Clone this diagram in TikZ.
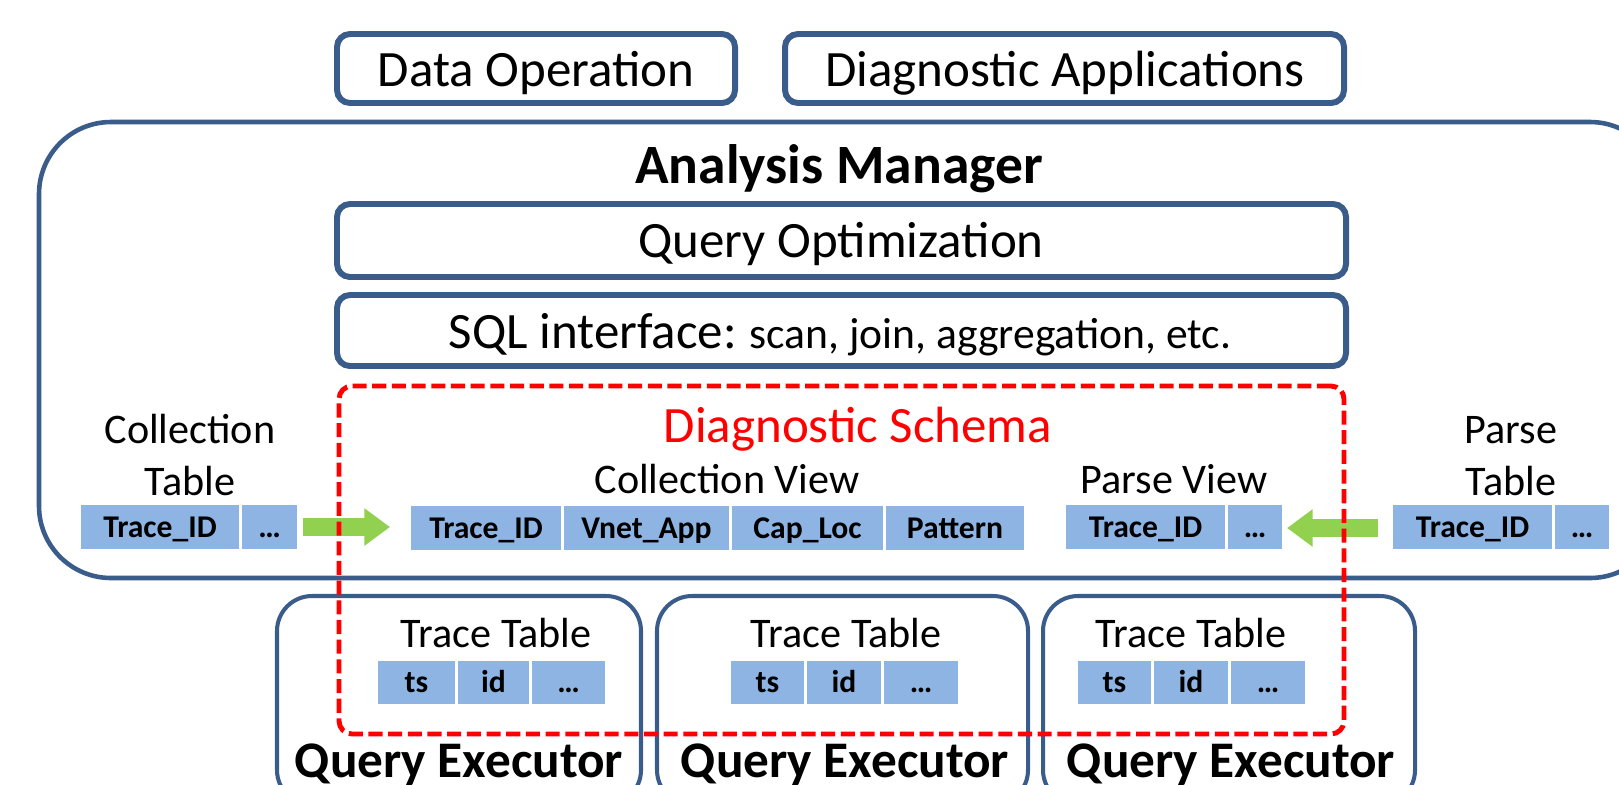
\documentclass[tikz,border=0pt]{standalone}
\usepackage{fontspec}
\setmainfont{Carlito}
\usetikzlibrary{arrows.meta,fit}
\definecolor{bord}{HTML}{3A5C8B}
\definecolor{cellblue}{HTML}{8DB4E2}
\definecolor{garrow}{HTML}{92D050}
\definecolor{dred}{HTML}{FF0000}
\newcommand{\fsz}[1]{\fontsize{#1}{#1}\selectfont}
\begin{document}
\begin{tikzpicture}[x=0.1mm,y=-0.1mm,
  box/.style={draw=bord, line width=1.7pt, rounded corners=1.3mm, inner sep=0pt},
  bigbox/.style={draw=bord, line width=1.3pt, rounded corners=7.2mm, inner sep=0pt},
  qebox/.style={draw=bord, line width=1.15pt, rounded corners=3.5mm, inner sep=0pt},
  cellbox/.style={fill=cellblue, inner sep=0pt},
  ctext/.style={inner sep=0pt, text height=5.8pt, text depth=0pt, font=\fsz{9pt}\bfseries},
  lbl/.style={inner sep=0pt, anchor=base},
  big/.style={lbl, font=\fsz{14.5pt}},
  mid/.style={lbl, font=\fsz{12pt}},
  garr/.style={draw=garrow, line width=5pt, -{Triangle[length=7.3pt,width=10.2pt]}},
  schema/.style={draw=dred, line width=1.4pt, dash pattern=on 4pt off 1.6pt, rounded corners=1.3mm, inner sep=0pt}
]
\clip (0,0) rectangle (1619,784);
% outer boxes
\node[bigbox, fit={(39,122) (1662,578)}] (am) {};
\node[box, fit={(337,34) (735,103)}] (dop) {};
\node[box, fit={(785,34) (1344,103)}] (dapp) {};
\node[box, fit={(337,204) (1346,277)}] (qo) {};
\node[box, fit={(337,295) (1346,366)}] (sql) {};
\node[qebox, fit={(277,596) (641,805)}] (qe1) {};
\node[qebox, fit={(657,596) (1028,805)}] (qe2) {};
\node[qebox, fit={(1043,596) (1415,805)}] (qe3) {};
% labels
\node[big] (dopt) at (536,86) {Data Operation};
\node[big] (dappt) at (1065,86) {Diagnostic Applications};
\node[lbl, font=\fsz{15.8pt}\bfseries] (amt) at (839,183) {Analysis Manager};
\node[big] (qot) at (841,257) {Query Optimization};
\node[big] (sqlt) at (840,348) {SQL interface:{\fsz{12.4pt} scan, join, aggregation, etc.}};
\node[big, text=dred] (dst) at (858,442) {Diagnostic Schema};
\node[mid] (cvt) at (727,493) {Collection View};
\node[mid] (pvt) at (1174,493) {Parse View};
\node[mid] (ctt1) at (190,443) {Collection};
\node[mid] (ctt2) at (190,495) {Table};
\node[mid] (ptt1) at (1511,443) {Parse};
\node[mid] (ptt2) at (1511,495) {Table};
\node[mid] (tt1) at (496,647) {Trace Table};
\node[mid] (tt2) at (846,647) {Trace Table};
\node[mid] (tt3) at (1191,647) {Trace Table};
\node[lbl, font=\fsz{14.6pt}\bfseries] (qe1t) at (459,777) {Query Executor};
\node[lbl, font=\fsz{14.6pt}\bfseries] (qe2t) at (845,777) {Query Executor};
\node[lbl, font=\fsz{14.6pt}\bfseries] (qe3t) at (1231,777) {Query Executor};
% collection table
\node[cellbox, fit={(81,505) (239,549)}] (ct1) {};
\node[cellbox, fit={(242,505) (297,549)}] (ct2) {};
\node[ctext] at (ct1.center) {Trace\_ID};
\node[ctext] at (ct2.center) {…};
% collection view
\node[cellbox, fit={(411,506) (561,550)}] (cv1) {};
\node[cellbox, fit={(564,506) (729,550)}] (cv2) {};
\node[cellbox, fit={(732,506) (883,550)}] (cv3) {};
\node[cellbox, fit={(886,506) (1024,550)}] (cv4) {};
\node[ctext] at (cv1.center) {Trace\_ID};
\node[ctext] at (cv2.center) {Vnet\_App};
\node[ctext] at (cv3.center) {Cap\_Loc};
\node[ctext] at (cv4.center) {Pattern};
% parse view
\node[cellbox, fit={(1066,505) (1225,549)}] (pv1) {};
\node[cellbox, fit={(1228,505) (1282,549)}] (pv2) {};
\node[ctext] at (pv1.center) {Trace\_ID};
\node[ctext] at (pv2.center) {…};
% parse table
\node[cellbox, fit={(1393,505) (1552,549)}] (pt1) {};
\node[cellbox, fit={(1555,505) (1609,549)}] (pt2) {};
\node[ctext] at (pt1.center) {Trace\_ID};
\node[ctext] at (pt2.center) {…};
% trace tables
\foreach \i/\a/\b/\c/\d/\e/\f in {1/378/455/458/529/532/605, 2/731/804/807/881/884/958, 3/1078/1151/1154/1228/1231/1305}{
  \node[cellbox, fit={(\a,661) (\b,704)}] (ts\i) {};
  \node[cellbox, fit={(\c,661) (\d,704)}] (id\i) {};
  \node[cellbox, fit={(\e,661) (\f,704)}] (more\i) {};
  \node[ctext] at (ts\i.center) {ts};
  \node[ctext] at (id\i.center) {id};
  \node[ctext] at (more\i.center) {…};
}
% green arrows
\coordinate (la1) at (303,527);
\coordinate (la2) at (390,527);
\coordinate (ra1) at (1378,528);
\coordinate (ra2) at (1287,528);
\draw[garr] (la1) -- (la2);
\draw[garr] (ra1) -- (ra2);
% diagnostic schema
\node[schema, fit={(339,386) (1344,734)}] (ds) {};
\end{tikzpicture}
\end{document}
